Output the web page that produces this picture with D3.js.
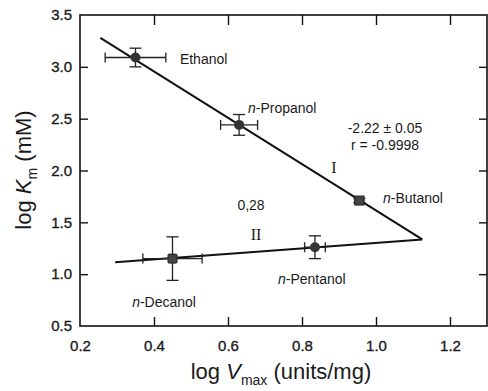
<!DOCTYPE html>
<html>
<head>
<meta charset="utf-8">
<script src="https://cdn.jsdelivr.net/npm/d3@7"></script>
<style>
  html, body { margin: 0; padding: 0; background: #fff; }
  svg { display: block; }
  text { font-family: "Liberation Sans", Arial, sans-serif; fill: #1a1a1a; }
</style>
</head>
<body>
<svg id="chart" width="488" height="391"></svg>
<script>
// ---- data ----
const compounds = ["Ethanol", "n-Propanol", "n-Butanol", "n-Pentanol", "n-Decanol"];
const logVmax   = [0.35, 0.63, 0.955, 0.835, 0.45];
const logKm     = [3.09, 2.44, 1.71, 1.26, 1.15];
const xErr      = [0.082, 0.05, 0.012, 0.028, 0.08];
const yErr      = [0.09, 0.10, 0.02, 0.11, 0.21];
const markerShape = ["circle", "circle", "square", "circle", "square"];

// regression lines (end points)
const lineI_x  = [0.255, 1.125];
const lineI_y  = [3.28, 1.335];
const lineII_x = [0.295, 1.125];
const lineII_y = [1.115, 1.335];

const xTicks = [0.2, 0.4, 0.6, 0.8, 1.0, 1.2];
const yTicks = [0.5, 1.0, 1.5, 2.0, 2.5, 3.0, 3.5];

// label anchor positions in data units
const labelX = [0.47, 0.654, 1.019, 0.735, 0.341];
const labelY = [3.027, 2.555, 1.687, 0.905, 0.683];

const svg = d3.select("#chart");
const L = 80, R = 487, T = 15, B = 326;
const x = d3.scaleLinear().domain([0.2, 1.3]).range([L, R]);
const y = d3.scaleLinear().domain([0.5, 3.5]).range([B, T]);

// frame
svg.append("rect").attr("x", L).attr("y", T).attr("width", R - L).attr("height", B - T)
  .attr("fill", "none").attr("stroke", "#111").attr("stroke-width", 1.6);

const fmt = d3.format(".1f");
const styleAxis = g => {
  g.select(".domain").remove();
  g.selectAll(".tick line").attr("stroke", "#111").attr("stroke-width", 1.4);
  g.selectAll("text").style("font-size", "15px").attr("fill", "#1a1a1a")
    .attr("stroke", "#1a1a1a").attr("stroke-width", 0.35);
};

svg.append("g").attr("transform", `translate(${L},0)`)
  .call(d3.axisLeft(y).tickValues(yTicks).tickFormat(fmt).tickSizeInner(-8).tickSizeOuter(0).tickPadding(8))
  .call(styleAxis)
  .call(g => g.selectAll(".tick").filter(d => d === 3.5 || d === 0.5).select("line").remove());

svg.append("g").attr("transform", `translate(0,${B})`)
  .call(d3.axisBottom(x).tickValues(xTicks).tickFormat(fmt).tickSizeInner(-9).tickSizeOuter(0).tickPadding(14))
  .call(styleAxis)
  .call(g => g.selectAll(".tick").filter(d => d === 0.2).select("line").remove());

svg.append("g").attr("transform", `translate(0,${T})`)
  .call(d3.axisTop(x).tickValues(xTicks.filter(d => d > 0.2)).tickFormat("").tickSizeInner(-10).tickSizeOuter(0))
  .call(styleAxis);

svg.append("g").attr("transform", `translate(${R},0)`)
  .call(d3.axisRight(y).tickValues(yTicks.filter(d => d > 0.5 && d < 3.5)).tickFormat("").tickSizeInner(-8).tickSizeOuter(0))
  .call(styleAxis);

// regression lines
const line = d3.line().x(d => x(d[0])).y(d => y(d[1]));
[[lineI_x, lineI_y], [lineII_x, lineII_y]].forEach(([xs, ys]) => {
  svg.append("path").datum(xs.map((v, i) => [v, ys[i]]))
    .attr("d", line).attr("fill", "none").attr("stroke", "#111").attr("stroke-width", 2);
});

// error bars and markers
const pts = compounds.map((c, i) => ({ c, vx: logVmax[i], vy: logKm[i], ex: xErr[i], ey: yErr[i], s: markerShape[i] }));
const eb = svg.append("g").attr("stroke", "#222").attr("stroke-width", 1.3);
pts.forEach(p => {
  const cx = x(p.vx), cy = y(p.vy);
  const x0 = x(p.vx - p.ex), x1 = x(p.vx + p.ex);
  const y0 = y(p.vy + p.ey), y1 = y(p.vy - p.ey);
  eb.append("line").attr("x1", x0).attr("x2", x1).attr("y1", cy).attr("y2", cy);
  eb.append("line").attr("x1", x0).attr("x2", x0).attr("y1", cy - 5).attr("y2", cy + 5);
  eb.append("line").attr("x1", x1).attr("x2", x1).attr("y1", cy - 5).attr("y2", cy + 5);
  eb.append("line").attr("x1", cx).attr("x2", cx).attr("y1", y0).attr("y2", y1);
  eb.append("line").attr("x1", cx - 6).attr("x2", cx + 6).attr("y1", y0).attr("y2", y0);
  eb.append("line").attr("x1", cx - 6).attr("x2", cx + 6).attr("y1", y1).attr("y2", y1);
});
pts.forEach(p => {
  const cx = x(p.vx), cy = y(p.vy);
  if (p.s === "circle") {
    svg.append("circle").attr("cx", cx).attr("cy", cy).attr("r", 5).attr("fill", "#333");
  } else {
    svg.append("rect").attr("x", cx - 4.5).attr("y", cy - 4.5).attr("width", 9).attr("height", 9)
      .attr("rx", 1).attr("fill", "#444").attr("stroke", "#222");
  }
});

// compound labels
pts.forEach((p, i) => {
  const t = svg.append("text").attr("x", x(labelX[i])).attr("y", y(labelY[i]))
    .style("font-size", "14px");
  if (p.c.startsWith("n-")) {
    t.append("tspan").style("font-style", "italic").text("n");
    t.append("tspan").text(p.c.slice(1));
  } else {
    t.text(p.c);
  }
});

// other annotations
svg.append("text").attr("x", 385).attr("y", 133).attr("text-anchor", "middle").style("font-size", "14px").text("-2.22 ± 0.05");
svg.append("text").attr("x", 385).attr("y", 150).attr("text-anchor", "middle").style("font-size", "14px").text("r = -0.9998");
svg.append("text").attr("x", 251).attr("y", 210).attr("text-anchor", "middle").style("font-size", "14px").text("0,28");
svg.append("text").attr("x", 334).attr("y", 173).attr("text-anchor", "middle")
  .style("font-family", "'Liberation Serif', 'Times New Roman', serif").style("font-size", "16px").text("I");
svg.append("text").attr("x", 256).attr("y", 240).attr("text-anchor", "middle")
  .style("font-family", "'Liberation Serif', 'Times New Roman', serif").style("font-size", "16px").text("II");

// axis titles
const xt = svg.append("text").attr("x", 281).attr("y", 379).attr("text-anchor", "middle").style("font-size", "22px");
xt.append("tspan").text("log ");
xt.append("tspan").style("font-style", "italic").text("V");
xt.append("tspan").attr("dy", 6).style("font-size", "14px").text("max");
xt.append("tspan").attr("dy", -6).text("  (units/mg)");

const yt = svg.append("text").attr("transform", "translate(31,170) rotate(-90)").attr("text-anchor", "middle").style("font-size", "22px");
yt.append("tspan").text("log ");
yt.append("tspan").style("font-style", "italic").text("K");
yt.append("tspan").attr("dy", 6).style("font-size", "14px").text("m");
yt.append("tspan").attr("dy", -6).text("  (mM)");
</script>
</body>
</html>
